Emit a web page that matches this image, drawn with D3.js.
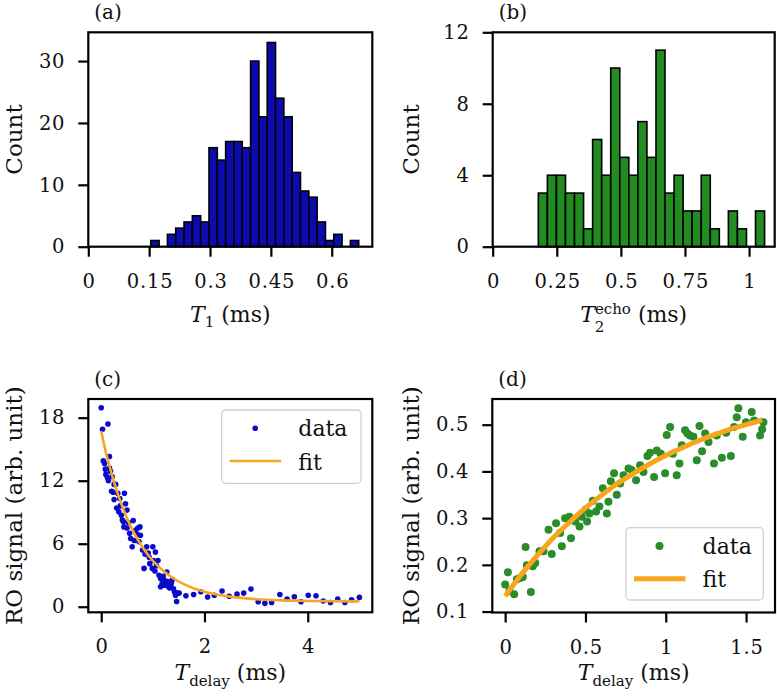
<!DOCTYPE html>
<html>
<head>
<meta charset="utf-8">
<style>
  body { margin: 0; background: #fff; }
  svg { display: block; font-family: "DejaVu Serif", serif; }
</style>
</head>
<body>
<div class="container"></div>
<script src="https://d3js.org/d3.v7.min.js"></script>
<script>
// ---- data ----
// (a) T1 histogram
var t1BinStart = 0.154, t1BinWidth = 0.0205;
var t1Counts = [1, 0, 2, 3, 4, 5, 4, 16, 14, 17, 17, 16, 30, 21, 33, 24, 21, 12, 9, 8, 4, 1, 2, 0, 1];
var t1Ticks = [0, 0.15, 0.3, 0.45, 0.6];
var t1TickLabels = ['0', '0.15', '0.3', '0.45', '0.6'];
var t1CountTicks = [0, 10, 20, 30];

// (b) T2 echo histogram
var t2BinStart = 0.178, t2BinWidth = 0.0353;
var t2Counts = [3, 4, 4, 3, 3, 1, 6, 4, 10, 5, 4, 7, 5, 11, 3, 4, 2, 2, 4, 1, 0, 2, 1, 0, 2];
var t2Ticks = [0, 0.25, 0.5, 0.75, 1];
var t2TickLabels = ['0', '0.25', '0.5', '0.75', '1'];
var t2CountTicks = [0, 4, 8, 12];

// (c) T1 decay trace
var cX = [0, 0.026, 0.13, 0.04, 0.065, 0.09, 0.12, 0.16, 0.16, 0.18, 0.21, 0.25, 0.28, 0.32, 0.25, 0.36, 0.45, 0.3, 0.34, 0.39,
          0.43, 0.47, 0.5, 0.41, 0.44, 0.5, 0.57, 0.6, 0.62, 0.67, 0.71, 0.75, 0.76, 0.73, 0.8, 0.88, 0.83, 0.91, 0.93, 1.0,
          1.05, 1.1, 0.94, 0.99, 1.04, 1.07, 1.12, 1.15, 1.18, 1.23, 1.27, 1.29, 1.35, 1.38, 1.42, 1.44, 1.48, 1.46, 1.51, 1.15,
          1.22, 1.28, 0.08, 0.14, 0.2, 0.23, 0.37, 0.53, 0.55, 0.64, 0.69, 1.01, 0.85, 1.2, 1.25, 1.32, 1.36, 1.4,
          1.64, 1.79, 1.93, 2.06, 2.19, 2.34, 2.48, 2.63, 2.76, 2.9, 3.04, 3.17, 3.3, 3.46, 3.6, 3.74, 3.87, 4.01, 4.16, 4.3,
          4.44, 4.58, 4.72, 4.85, 5.0];
var cY = [18.95, 16.9, 17.4, 13.9, 13.65, 12.6, 12.3, 14.3, 13.2, 12.9, 12.4, 11.65, 11.65, 10.8, 10.2, 10.3, 10.8, 9.4, 9.05, 8.7,
          8.1, 9.8, 9.2, 8.25, 7.6, 7.5, 6.5, 5.7, 8.2, 7.3, 7.5, 7.6, 6.8, 6.2, 5.4, 5.7, 3.65, 5.1, 4.7, 5.7,
          5.2, 4.4, 4.1, 3.65, 3.4, 3.9, 3.0, 2.7, 2.2, 2.5, 3.3, 2.4, 2.1, 2.6, 1.4, 1.1, 1.3, 0.5, 1.3, 1.9,
          2.05, 2.0, 13.1, 12.0, 11.0, 10.9, 9.6, 8.0, 7.0, 6.3, 6.9, 4.4, 5.0, 2.9, 2.1, 1.8, 2.3, 1.7,
          1.05, 1.17, 1.43, 0.92, 1.1, 1.5, 1.0, 1.2, 1.3, 1.68, 0.48, 0.32, 0.41, 1.17, 0.73, 0.95, 0.48, 1.1, 1.05, 0.54,
          0.41, 0.73, 0.41, 0.67, 0.89];
var cFitX = [0, 0.1, 0.2, 0.3, 0.4, 0.5, 0.6, 0.8, 1.0, 1.2, 1.4, 1.6, 1.8, 2.0, 2.5, 3.0, 3.5, 4.0, 5.0];
var cFitY = [16.7, 14.5, 12.7, 11.05, 9.65, 8.43, 7.37, 5.67, 4.38, 3.42, 2.69, 2.15, 1.74, 1.43, 0.96, 0.72, 0.61, 0.55, 0.51];
var cXTicks = [0, 2, 4];
var cYTicks = [0, 6, 12, 18];

// (d) T2 echo trace
var dX = [0, 0.017, 0.027, 0.056, 0.073, 0.093, 0.11, 0.127, 0.135, 0.16, 0.172, 0.187, 0.214, 0.239, 0.27, 0.29, 0.317, 0.342, 0.353, 0.373,
          0.4, 0.41, 0.436, 0.463, 0.477, 0.5, 0.51, 0.525, 0.546, 0.566, 0.587, 0.608, 0.633, 0.643, 0.658, 0.678, 0.695, 0.716, 0.737, 0.768,
          0.788, 0.815, 0.84, 0.861, 0.886, 0.902, 0.927, 0.944, 0.969, 0.996, 1.006, 1.027, 1.044, 1.068, 1.085, 1.1, 1.12, 1.135, 1.151, 1.172,
          1.193, 1.21, 1.226, 1.245, 1.266, 1.3, 1.317, 1.349, 1.376, 1.405, 1.425, 1.442, 1.452, 1.479, 1.5, 1.535, 1.55, 1.587, 1.608, 1.6];
var dY = [0.158, 0.184, 0.144, 0.137, 0.169, 0.172, 0.174, 0.238, 0.199, 0.142, 0.197, 0.204, 0.229, 0.229, 0.275, 0.223, 0.289, 0.268, 0.24, 0.3,
          0.303, 0.257, 0.293, 0.282, 0.303, 0.318, 0.293, 0.31, 0.337, 0.314, 0.325, 0.364, 0.31, 0.335, 0.379, 0.396, 0.35, 0.374, 0.392, 0.406,
          0.403, 0.381, 0.413, 0.399, 0.433, 0.44, 0.388, 0.445, 0.438, 0.396, 0.478, 0.495, 0.438, 0.392, 0.417, 0.456, 0.488, 0.481, 0.477, 0.474,
          0.424, 0.497, 0.443, 0.481, 0.463, 0.417, 0.477, 0.429, 0.483, 0.433, 0.495, 0.516, 0.535, 0.474, 0.505, 0.527, 0.509, 0.477, 0.505, 0.49];
var dFitX = [0, 0.1, 0.2, 0.3, 0.4, 0.5, 0.6, 0.7, 0.8, 0.9, 1.0, 1.1, 1.2, 1.3, 1.4, 1.5, 1.6];
var dFitY = [0.133, 0.179, 0.220, 0.258, 0.291, 0.322, 0.349, 0.374, 0.396, 0.416, 0.434, 0.450, 0.465, 0.478, 0.490, 0.500, 0.510];
var dXTicks = [0, 0.5, 1, 1.5];
var dXTickLabels = ['0', '0.5', '1', '1.5'];
var dYTicks = [0.1, 0.2, 0.3, 0.4, 0.5];

// ---- drawing ----
var W = 777, H = 696;
var svg = d3.select('.container').append('svg').attr('width', W).attr('height', H);

var serif = '"DejaVu Serif", serif';
var tickFont = 19.5, labelFont = 22, yLabelFont = 23, legendFont = 22;

function panel(box, xDom, yDom) {
  var g = svg.append('g');
  var x = d3.scaleLinear().domain(xDom).range([box.left, box.right]);
  var y = d3.scaleLinear().domain(yDom).range([box.bottom, box.top]);
  return { g: g, x: x, y: y, box: box };
}

function axes(p, xTicks, xLabels, yTicks, yLabels) {
  var xa = d3.axisBottom(p.x).tickValues(xTicks).tickSize(10)
    .tickFormat(function(d, i) { return xLabels ? xLabels[i] : d; });
  var ya = d3.axisLeft(p.y).tickValues(yTicks).tickSize(10)
    .tickFormat(function(d, i) { return yLabels ? yLabels[i] : d; });
  var gx = p.g.append('g').attr('transform', 'translate(0,' + p.box.bottom + ')').call(xa);
  var gy = p.g.append('g').attr('transform', 'translate(' + p.box.left + ',0)').call(ya);
  [gx, gy].forEach(function(a) {
    a.attr('font-family', serif);
    a.select('.domain').remove();
    a.selectAll('line').attr('stroke', '#000').attr('stroke-width', 2.2);
    a.selectAll('text').attr('fill', '#111').attr('font-size', tickFont)
      .attr('font-family', serif).attr('letter-spacing', 0.8);
  });
  gx.selectAll('text').attr('y', 41).attr('dy', 0).attr('dx', 0.4);
  gy.selectAll('text').attr('x', -23);
  p.g.append('rect')
    .attr('x', p.box.left).attr('y', p.box.top)
    .attr('width', p.box.right - p.box.left).attr('height', p.box.bottom - p.box.top)
    .attr('fill', 'none').attr('stroke', '#000').attr('stroke-width', 2.2);
}

function title(p, s) {
  p.g.append('text').attr('x', p.box.left + 6).attr('y', p.box.top - 13)
    .attr('font-family', serif).attr('font-size', 20).attr('fill', '#111').text(s);
}

function yLabel(p, xpos, s) {
  p.g.append('text')
    .attr('transform', 'translate(' + xpos + ',' + (p.box.top + p.box.bottom) / 2 + ') rotate(-90)')
    .attr('text-anchor', 'middle').attr('font-family', serif)
    .attr('font-size', yLabelFont).attr('fill', '#111').text(s);
}

// math-ish label built from tspans, centred under the axes
function xLabel(p, ypos, parts) {
  var t = p.g.append('text').attr('x', 0).attr('y', ypos)
    .attr('font-family', serif).attr('font-size', labelFont).attr('fill', '#111');
  parts.forEach(function(q) {
    var s = t.append('tspan').text(q.t);
    if (q.it) s.attr('font-style', 'italic');
    if (q.fs) s.attr('font-size', q.fs);
    if (q.dy) s.attr('dy', q.dy);
    if (q.dx) s.attr('dx', q.dx);
  });
  var bb = t.node().getBBox();
  var cx = (p.box.left + p.box.right) / 2;
  t.attr('x', cx - bb.width / 2 - bb.x);
}

function hist(p, start, width, counts, fill) {
  p.g.append('g').selectAll('rect').data(counts).join('rect')
    .attr('x', function(d, i) { return p.x(start + i * width); })
    .attr('width', function(d, i) { return p.x(start + (i + 1) * width) - p.x(start + i * width); })
    .attr('y', function(d) { return p.y(d); })
    .attr('height', function(d) { return p.y(0) - p.y(d); })
    .attr('fill', fill).attr('stroke', '#000').attr('stroke-width', 1.6);
}

function legend(p, dx, dy, w, h, color, r, lw) {
  var l = p.g.append('g').attr('transform', 'translate(' + (p.box.right - dx) + ',' + (p.box.top + dy) + ')');
  l.append('rect').attr('width', w).attr('height', h).attr('rx', 4)
    .attr('fill', '#fff').attr('fill-opacity', 0.8).attr('stroke', '#d0d0d0').attr('stroke-width', 1.3);
  l.append('circle').attr('cx', 33.5).attr('cy', 18.3).attr('r', r).attr('fill', color.dot);
  l.append('text').attr('x', 76.6).attr('y', 26).attr('font-family', serif)
    .attr('font-size', legendFont).attr('fill', '#111').text('data');
  l.append('line').attr('x1', 8).attr('x2', 59.5).attr('y1', 51).attr('y2', 51)
    .attr('stroke', color.line).attr('stroke-width', lw);
  l.append('text').attr('x', 76.6).attr('y', 59.5).attr('font-family', serif)
    .attr('font-size', legendFont).attr('fill', '#111').text('fit');
}

// (a)
var pa = panel({ left: 88.3, right: 372.3, top: 32.3, bottom: 246.7 }, [0, 0.7], [0, 34.65]);
hist(pa, t1BinStart, t1BinWidth, t1Counts, '#0b0bb0');
axes(pa, t1Ticks, t1TickLabels, t1CountTicks, null);
title(pa, '(a)');
yLabel(pa, 21.5, 'Count');
xLabel(pa, 321.5, [{ t: 'T', it: true }, { t: '1', fs: 15, dy: 5.5 }, { t: ' (ms)', dy: -5.5 }]);

// (b)
var pb = panel({ left: 492.7, right: 774.7, top: 32.3, bottom: 246.7 }, [0, 1.1], [0, 12]);
hist(pb, t2BinStart, t2BinWidth, t2Counts, '#228b22');
axes(pb, t2Ticks, t2TickLabels, t2CountTicks, null);
title(pb, '(b)');
yLabel(pb, 419, 'Count');
xLabel(pb, 321.5, [{ t: 'T', it: true }, { t: '2', fs: 15, dy: 10.5 }, { t: 'echo', fs: 15, dy: -18.5, dx: -9.5 },
                   { t: ' (ms)', dy: 8 }]);

// (c)
var pc = panel({ left: 88.3, right: 372.3, top: 399, bottom: 612.3 }, [-0.25, 5.25], [-0.53, 19.78]);
pc.g.append('g').selectAll('circle').data(cX).join('circle')
  .attr('cx', function(d) { return pc.x(d); })
  .attr('cy', function(d, i) { return pc.y(cY[i]); })
  .attr('r', 2.8).attr('fill', '#0a0acd');
pc.g.append('path').datum(cFitX)
  .attr('d', d3.line().curve(d3.curveMonotoneX)
    .x(function(d) { return pc.x(d); })
    .y(function(d, i) { return pc.y(cFitY[i]); }))
  .attr('fill', 'none').attr('stroke', '#f5a623').attr('stroke-width', 2.6);
axes(pc, cXTicks, null, cYTicks, null);
title(pc, '(c)');
yLabel(pc, 21.5, 'RO signal (arb. unit)');
xLabel(pc, 680, [{ t: 'T', it: true }, { t: 'delay', fs: 15, dy: 6 }, { t: ' (ms)', dy: -6 }]);
legend(pc, 150.6, 11, 139.3, 73.3, { dot: '#0a0acd', line: '#f5a623' }, 2.8, 2.6);

// (d)
var pd = panel({ left: 492.3, right: 775, top: 399, bottom: 612.5 }, [-0.08, 1.68], [0.098, 0.555]);
pd.g.append('g').selectAll('circle').data(dX).join('circle')
  .attr('cx', function(d) { return pd.x(d); })
  .attr('cy', function(d, i) { return pd.y(dY[i]); })
  .attr('r', 4).attr('fill', '#2a8c2a');
pd.g.append('path').datum(dFitX)
  .attr('d', d3.line().curve(d3.curveMonotoneX)
    .x(function(d) { return pd.x(d); })
    .y(function(d, i) { return pd.y(dFitY[i]); }))
  .attr('fill', 'none').attr('stroke', '#f9a51c').attr('stroke-width', 5);
axes(pd, dXTicks, dXTickLabels, dYTicks, null);
title(pd, '(d)');
yLabel(pd, 419, 'RO signal (arb. unit)');
xLabel(pd, 680, [{ t: 'T', it: true }, { t: 'delay', fs: 15, dy: 6 }, { t: ' (ms)', dy: -6 }]);
legend(pd, 149, 128.7, 137.3, 72.3, { dot: '#2a8c2a', line: '#f9a51c' }, 4, 5);
</script>
</body>
</html>
